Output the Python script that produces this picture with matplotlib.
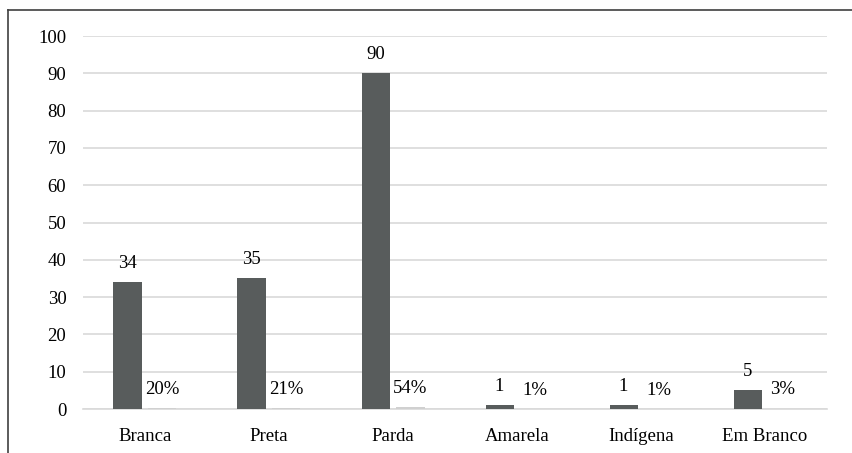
import numpy as np
import matplotlib.pyplot as plt
from matplotlib.lines import Line2D

plt.rcParams['font.family'] = ['Liberation Serif', 'DejaVu Serif']

categorias = ['Branca', 'Preta', 'Parda', 'Amarela', 'Indígena', 'Em Branco']
quantidade = [34, 35, 90, 1, 1, 5]
percentual = [0.20, 0.21, 0.54, 0.01, 0.01, 0.03]

fig = plt.figure(figsize=(8.52, 4.53), dpi=100)
ax = fig.add_axes([0.0974, 0.0971, 0.8733, 0.8234])

x = np.arange(len(categorias))
w = 0.226
d = 0.141
b1 = ax.bar(x - d, quantidade, w, color='#585c5c', zorder=3)
b2 = ax.bar(x + d, percentual, w, color='#d0d0d0', zorder=3)

fs = 13.5
for rect, v in zip(b1, quantidade):
    ax.annotate(f'{v}', (rect.get_x() + rect.get_width() / 2, rect.get_height()),
                xytext=(0, 7.5), textcoords='offset points', ha='center', va='bottom',
                fontsize=fs)
for rect, v in zip(b2, percentual):
    ax.annotate(f'{v:.0%}', (rect.get_x() + rect.get_width() / 2, rect.get_height()),
                xytext=(0, 7.5), textcoords='offset points', ha='center', va='bottom',
                fontsize=fs)

ax.set_xlim(-0.5, len(categorias) - 0.5)
ax.set_ylim(0, 100)
ax.set_yticks(range(0, 101, 10))
ax.set_xticks(x)
ax.set_xticklabels(categorias)
ax.tick_params(axis='both', length=0, labelsize=fs)
ax.tick_params(axis='y', pad=12)
ax.tick_params(axis='x', pad=14)
ax.grid(axis='y', color='#d9d9d9', linewidth=1.2, zorder=0)
for s in ['top', 'right', 'left']:
    ax.spines[s].set_visible(False)
ax.spines['bottom'].set_color('#d9d9d9')
ax.spines['bottom'].set_linewidth(1.2)

# moldura do gráfico (esquerda e topo)
fig.add_artist(Line2D([7.5 / 852, 7.5 / 852], [0, 1 - 9.5 / 453],
                      transform=fig.transFigure, color='#404040', linewidth=1.2))
fig.add_artist(Line2D([7.5 / 852, 1], [1 - 9.5 / 453, 1 - 9.5 / 453],
                      transform=fig.transFigure, color='#404040', linewidth=1.2))

fig.savefig('out.png', dpi=100)
